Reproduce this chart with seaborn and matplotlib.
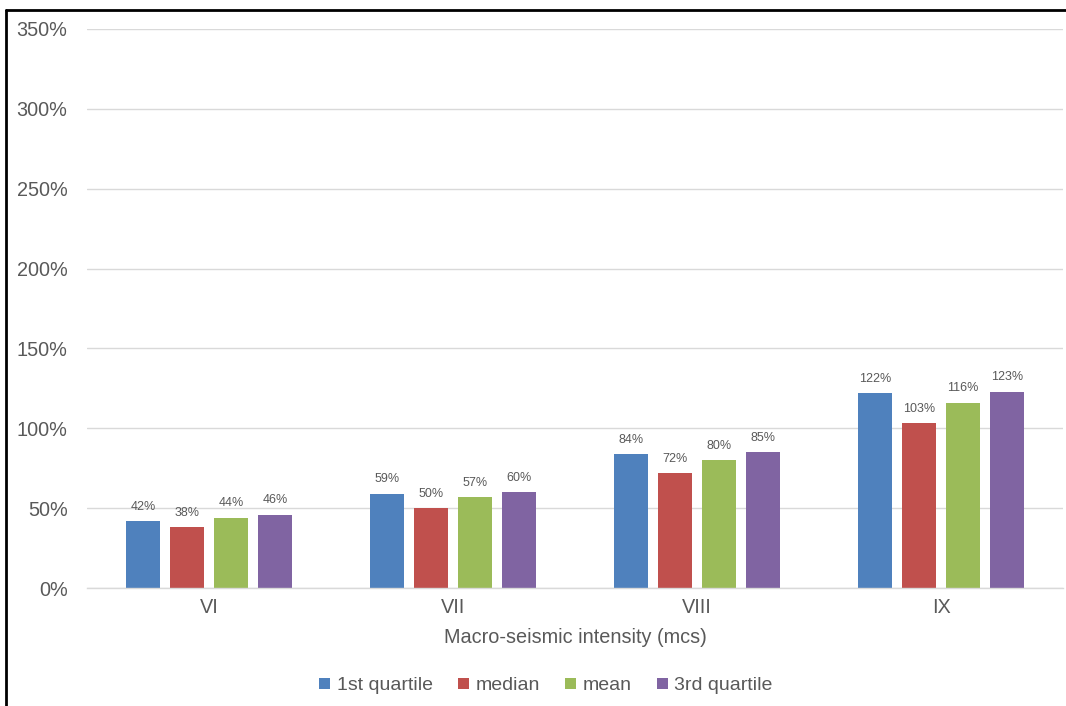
import numpy as np
import pandas as pd
import matplotlib
matplotlib.use("Agg")
import matplotlib.pyplot as plt
from matplotlib.lines import Line2D
import seaborn as sns

# Ratio values by macro-seismic intensity class
categories = ["VI", "VII", "VIII", "IX"]
series_names = ["1st quartile", "median", "mean", "3rd quartile"]
first_quartile = [42, 59, 84, 122]
median = [38, 50, 72, 103]
mean = [44, 57, 80, 116]
third_quartile = [46, 60, 85, 123]
y_ticks = [0, 50, 100, 150, 200, 250, 300, 350]

colors = ["#4F81BD", "#C0504D", "#9BBB59", "#8064A2"]

df = pd.DataFrame({
    "intensity": categories * 4,
    "stat": np.repeat(series_names, len(categories)),
    "value": first_quartile + median + mean + third_quartile,
})

sns.set_style("white")
plt.rcParams["font.family"] = ["Liberation Sans", "DejaVu Sans"]

fig = plt.figure(figsize=(10.66, 7.06), dpi=100)
ax = fig.add_axes([87 / 1066, 1 - 588 / 706, (1063 - 87) / 1066, (588 - 29) / 706])

sns.barplot(data=df, x="intensity", y="value", hue="stat",
            order=categories, hue_order=series_names, palette=colors,
            width=0.72, gap=0.226, saturation=1, ax=ax, legend=True,
            edgecolor="none", errorbar=None)

ax.set_ylim(0, 350)
ax.set_yticks(y_ticks)
ax.set_yticklabels([f"{t}%" for t in y_ticks])
ax.yaxis.grid(True, color="#D9D9D9", linewidth=1.0)
ax.set_axisbelow(True)
for side in ["left", "right", "top"]:
    ax.spines[side].set_visible(False)
ax.spines["bottom"].set_color("#D9D9D9")
ax.spines["bottom"].set_linewidth(1.0)
ax.tick_params(axis="both", length=0, labelsize=14.3, colors="#595959")
ax.tick_params(axis="y", pad=14)
ax.tick_params(axis="x", pad=7)

ax.set_xlabel("Macro-seismic intensity (mcs)", fontsize=14.3, color="#595959", labelpad=8)
ax.set_ylabel("")

# Value labels above each bar
for container, vals in zip(ax.containers, [first_quartile, median, mean, third_quartile]):
    ax.bar_label(container, labels=[f"{v}%" for v in vals], padding=6,
                 fontsize=9, color="#595959")

handles, labels = ax.get_legend_handles_labels()
ax.get_legend().remove()
fig.legend(handles, labels, loc="center", bbox_to_anchor=(546 / 1066, 1 - 686 / 706),
           ncol=4, frameon=False, fontsize=14, handlelength=0.55, handleheight=0.55,
           handletextpad=0.35, columnspacing=1.3, labelcolor="#595959")

# Frame lines along the left and top edges
fig.add_artist(Line2D([6 / 1066, 6 / 1066], [0, 1 - 10 / 706], transform=fig.transFigure,
                      color="black", linewidth=2))
fig.add_artist(Line2D([6 / 1066, 1], [1 - 10 / 706, 1 - 10 / 706], transform=fig.transFigure,
                      color="black", linewidth=2))

fig.savefig("out.png", dpi=100, facecolor="white")
